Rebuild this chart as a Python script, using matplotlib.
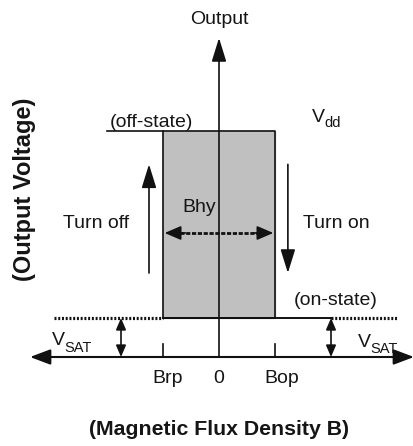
import matplotlib
matplotlib.use("Agg")
import matplotlib.pyplot as plt

plt.rcParams['font.family'] = ['Liberation Sans', 'DejaVu Sans']

# ---- data ----
b_ticks = [-1.0, 0.0, 1.0]            # Brp, 0, Bop
b_tick_labels = ['Brp', '0', 'Bop']
b_rp, b_op = -1.0, 1.0
v_sat = 0.5
v_dd = 2.9
off_line_start = -2.0
on_dot_left = -2.95
on_solid_end = 2.0
on_dot_right = 3.2
vsat_arrow_x = [-1.75, 2.0]
turn_off_x, turn_on_x = -1.25, 1.23
turn_y = [1.077, 2.47]
bhy_y = 1.59
x_axis_range = [-3.375, 3.482]
y_axis_top = 4.09

TXT = '#151515'
fs = 14
fs_sub = 10.5

fig = plt.figure(figsize=(4.14, 4.46), dpi=100)
ax = fig.add_axes([0, 0, 1, 1])
ax.set_xlim(-219/56, (414-219)/56)
ax.set_ylim(-(446-357)/78, 357/78)
ax.axis('off')

# hysteresis box
ax.fill_between([b_rp, b_op], v_sat, v_dd, color='#c0c0c0', zorder=1)
ax.plot([b_rp, b_rp, b_op, b_op, b_rp], [v_sat, v_dd, v_dd, v_sat, v_sat],
        color='#111111', lw=1.2, zorder=3)
# off-state line
ax.plot([off_line_start, b_rp], [v_dd, v_dd], color='#111111', lw=1.2, zorder=3)
# on-state line
ax.plot([b_rp, on_solid_end], [v_sat, v_sat], color='#111111', lw=1.4, zorder=3)
ax.plot([on_dot_left, b_rp], [v_sat, v_sat], color='#111111', lw=2.3,
        linestyle=(0, (0.62, 0.55)), zorder=3)
ax.plot([on_solid_end, on_dot_right], [v_sat, v_sat], color='#111111', lw=2.3,
        linestyle=(0, (0.62, 0.55)), zorder=3)

# axes arrows
ax.annotate('', xy=(0, y_axis_top), xytext=(0, 0),
            arrowprops=dict(arrowstyle='-|>,head_length=1.45,head_width=0.45',
                            mutation_scale=10, color='#111111', lw=1.2,
                            shrinkA=0, shrinkB=0), zorder=4)
ax.annotate('', xy=(x_axis_range[1], 0), xytext=(x_axis_range[0], 0),
            arrowprops=dict(arrowstyle='<|-|>,head_length=1.25,head_width=0.47',
                            mutation_scale=10, color='#111111', lw=1.5,
                            shrinkA=0, shrinkB=0), zorder=4)
# ticks
for bt in [b_rp, b_op]:
    ax.plot([bt, bt], [0, 0.167], color='#111111', lw=1.2, zorder=3)

# tick labels
for bt, lab in zip(b_ticks, b_tick_labels):
    if lab == '0':
        ax.text(bt, -0.333, lab, ha='center', va='baseline', fontsize=fs, color=TXT)
    else:
        ax.annotate(lab, xy=(bt, -0.333), xytext=(-8, 0), textcoords='offset points',
                    ha='left', va='baseline', fontsize=fs, color=TXT)

# VSAT arrows
for vx in vsat_arrow_x:
    ax.annotate('', xy=(vx, v_sat), xytext=(vx, 0),
                arrowprops=dict(arrowstyle='<|-|>,head_length=0.7,head_width=0.3',
                                mutation_scale=10, color='#111111', lw=1.2,
                                shrinkA=0, shrinkB=0), zorder=4)

# turn off / turn on arrows
ax.annotate('', xy=(turn_off_x, turn_y[1]), xytext=(turn_off_x, turn_y[0]),
            arrowprops=dict(arrowstyle='-|>,head_length=1.45,head_width=0.45',
                            mutation_scale=10, color='#111111', lw=1.2,
                            shrinkA=0, shrinkB=0), zorder=4)
ax.annotate('', xy=(turn_on_x, turn_y[0]), xytext=(turn_on_x, turn_y[1]),
            arrowprops=dict(arrowstyle='-|>,head_length=1.45,head_width=0.45',
                            mutation_scale=10, color='#111111', lw=1.2,
                            shrinkA=0, shrinkB=0), zorder=4)

# Bhy arrow
ax.plot([b_rp + 0.2, b_op - 0.2], [bhy_y, bhy_y], color='#111111', lw=2.0,
        linestyle=(0, (1.5, 0.6)), zorder=4)
for tip, tail in [(b_rp + 0.03, b_rp + 0.4), (b_op - 0.03, b_op - 0.4)]:
    ax.annotate('', xy=(tip, bhy_y), xytext=(tail, bhy_y),
                arrowprops=dict(arrowstyle='-|>,head_length=1.0,head_width=0.43',
                                mutation_scale=10, color='#111111', lw=1.2,
                                shrinkA=0, shrinkB=0), zorder=5)

# texts
ax.text(0, 4.27, 'Output', ha='center', va='baseline', fontsize=fs, color=TXT)
ax.text(-1.21, 2.95, '(off-state)', ha='center', va='baseline', fontsize=fs, color=TXT)
ax.text(1.66, 3.01, 'V', ha='left', va='baseline', fontsize=fs, color=TXT)
ax.text(1.88, 2.95, 'dd', ha='left', va='baseline', fontsize=fs_sub, color=TXT)
ax.text(-2.98, 0.154, 'V', ha='left', va='baseline', fontsize=fs, color=TXT)
ax.text(-2.765, 0.064, 'SAT', ha='left', va='baseline', fontsize=fs_sub, color=TXT)
ax.text(2.48, 0.128, 'V', ha='left', va='baseline', fontsize=fs, color=TXT)
ax.text(2.695, 0.05, 'SAT', ha='left', va='baseline', fontsize=fs_sub, color=TXT)
ax.text(-2.2, 1.65, 'Turn off', ha='center', va='baseline', fontsize=fs, color=TXT)
ax.text(2.1, 1.65, 'Turn on', ha='center', va='baseline', fontsize=fs, color=TXT)
ax.text(-0.36, 1.86, 'Bhy', ha='center', va='baseline', fontsize=fs, color=TXT)
ax.text(2.09, 0.667, '(on-state)', ha='center', va='baseline', fontsize=fs, color=TXT)
ax.text(0, -1.0, '(Magnetic Flux Density B)', ha='center', va='baseline',
        fontsize=15.3, fontweight='bold', color=TXT)
ax.text(-3.48, 2.15, '(Output Voltage)', ha='center', va='center', rotation=90,
        fontsize=17, fontweight='bold', color=TXT)

fig.savefig('out.png', dpi=100)
